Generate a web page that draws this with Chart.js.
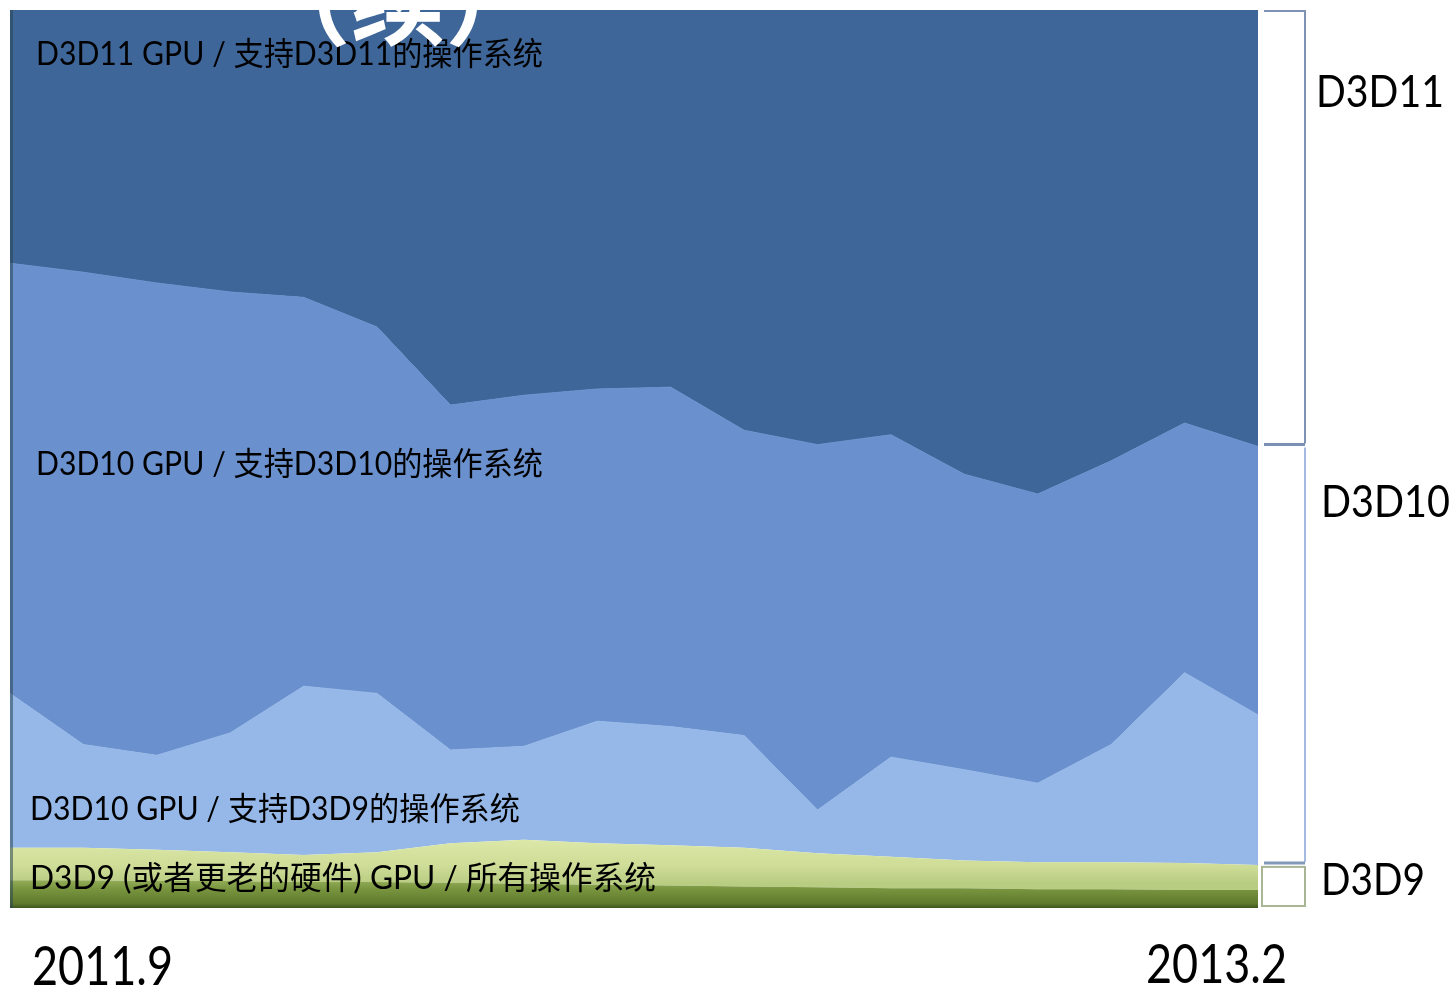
<!DOCTYPE html>
<html>
<head>
<meta charset="utf-8">
<script src="https://cdn.jsdelivr.net/npm/chart.js@4/dist/chart.umd.min.js"></script>
<style>
  html, body { margin: 0; padding: 0; background: #fff; }
  canvas { display: block; }
</style>
</head>
<body>
<canvas id="shareChart" width="1455" height="989"></canvas>
<script>
// Months, 2011.9 -> 2013.2
const months = ['2011.9', '2011.10', '2011.11', '2011.12', '2012.1', '2012.2', '2012.3', '2012.4', '2012.5',
  '2012.6', '2012.7', '2012.8', '2012.9', '2012.10', '2012.11', '2012.12', '2013.1', '2013.2'];

// Share (%) per layer, bottom to top
const d3d9Older = [3.1, 3.1, 3.0, 3.0, 2.9, 2.9, 2.8, 2.7, 2.6, 2.5, 2.4, 2.3, 2.2, 2.2, 2.1, 2.1, 2.0, 2.0];
const d3d9Gpu = [3.6, 3.6, 3.5, 3.2, 3.0, 3.3, 4.4, 4.9, 4.6, 4.5, 4.3, 3.8, 3.5, 3.1, 3.0, 3.0, 3.0, 2.8];
const d3d10OnD3d9 = [17.2, 11.5, 10.5, 13.3, 18.8, 17.7, 10.4, 10.4, 13.6, 13.2, 12.5, 4.8, 11.1, 10.1, 8.8, 13.1, 21.2, 16.7];
const d3d10OnD3d10 = [47.9, 52.6, 52.6, 49.1, 43.3, 40.8, 38.4, 39.1, 37.0, 37.8, 34.0, 40.7, 35.9, 32.9, 32.2, 31.6, 27.8, 29.9];
const d3d11 = [28.2, 29.2, 30.4, 31.4, 32.0, 35.3, 44.0, 42.9, 42.2, 42.0, 46.8, 48.4, 47.3, 51.7, 53.9, 50.2, 46.0, 48.6];

const areaLabels = [
  'D3D11 GPU / 支持D3D11的操作系统',
  'D3D10 GPU / 支持D3D10的操作系统',
  'D3D10 GPU / 支持D3D9的操作系统',
  'D3D9 (或者更老的硬件) GPU / 所有操作系统'
];
const bracketLabels = ['D3D11', 'D3D10', 'D3D9'];
const startLabel = '2011.9';
const endLabel = '2013.2';
const titleTail = '（续）';

const CJK = '"Noto Sans CJK SC"';

function vGradient(ctx, y0, y1, stops) {
  const g = ctx.createLinearGradient(0, y0, 0, y1);
  stops.forEach(s => g.addColorStop(s[0], s[1]));
  return g;
}

// Draw text squeezed/stretched to a given width
function fitText(ctx, text, x, y, width, font, color) {
  ctx.save();
  ctx.font = font;
  ctx.fillStyle = color;
  ctx.textAlign = 'left';
  ctx.textBaseline = 'middle';
  const w = ctx.measureText(text).width;
  ctx.translate(x, y);
  ctx.scale(width / w, 1);
  ctx.fillText(text, 0, 0);
  ctx.restore();
}

const decorPlugin = {
  id: 'decor',
  afterDatasetsDraw(chart) {
    const { ctx, chartArea, scales } = chart;
    const y = scales.y;
    const last = months.length - 1;

    // left edge shading
    ctx.save();
    ctx.fillStyle = 'rgba(40, 70, 80, 0.55)';
    ctx.fillRect(chartArea.left, chartArea.top, 3, chartArea.bottom - chartArea.top);
    ctx.restore();

    // brackets on the right, from the last month's stacked shares
    const greenTop = d3d9Older[last] + d3d9Gpu[last];
    const d10Top = greenTop + d3d10OnD3d9[last] + d3d10OnD3d10[last];
    const yTop = y.getPixelForValue(100);
    const yD10 = y.getPixelForValue(d10Top);
    const yGreen = y.getPixelForValue(greenTop);
    const yBottom = y.getPixelForValue(0);
    const bx0 = chartArea.right + 6;
    const bx1 = chartArea.right + 47;

    ctx.save();
    // D3D11
    ctx.strokeStyle = '#7f94b5';
    ctx.lineWidth = 2;
    ctx.beginPath();
    ctx.moveTo(bx0, yTop + 1);
    ctx.lineTo(bx1, yTop + 1);
    ctx.lineTo(bx1, yD10 - 3);
    ctx.stroke();
    ctx.lineWidth = 3;
    ctx.strokeStyle = '#7b90b2';
    ctx.beginPath();
    ctx.moveTo(bx0, yD10 - 2);
    ctx.lineTo(bx1, yD10 - 2);
    ctx.stroke();
    // D3D10
    ctx.lineWidth = 2;
    ctx.strokeStyle = '#a3bbe0';
    ctx.beginPath();
    ctx.moveTo(bx1, yD10 + 1);
    ctx.lineTo(bx1, yGreen - 3);
    ctx.stroke();
    ctx.strokeStyle = '#8298b8';
    ctx.lineWidth = 3;
    ctx.beginPath();
    ctx.moveTo(bx0, yGreen - 2);
    ctx.lineTo(bx1, yGreen - 2);
    ctx.stroke();
    // D3D9
    ctx.lineWidth = 2;
    ctx.strokeStyle = '#a9b696';
    ctx.strokeRect(bx0 - 2, yGreen + 2, bx1 - bx0 + 2, yBottom - yGreen - 4);
    ctx.restore();

    // bracket labels
    const rf = '44px Lato, "Open Sans", sans-serif';
    fitText(ctx, bracketLabels[0], 1316, 93, 128, rf, '#000');
    fitText(ctx, bracketLabels[1], 1321, 503, 129, rf, '#000');
    fitText(ctx, bracketLabels[2], 1321, 881, 104, rf, '#000');

    // area labels
    const af = '32px Lato, ' + CJK + ', sans-serif';
    fitText(ctx, areaLabels[0], 36, 55, 507, af, '#000');
    fitText(ctx, areaLabels[1], 36, 465, 507, af, '#000');
    fitText(ctx, areaLabels[2], 30, 810, 490, af, '#000');
    fitText(ctx, areaLabels[3], 30, 879, 626, af, '#000');

    // time labels
    const tf = '54px Lato, "Open Sans", sans-serif';
    fitText(ctx, startLabel, 32, 968, 141, tf, '#000');
    fitText(ctx, endLabel, 1146, 966, 141, tf, '#000');

    // leftover of the slide title, white over the plot
    ctx.save();
    ctx.beginPath();
    ctx.rect(chartArea.left, chartArea.top, chartArea.right - chartArea.left, 60);
    ctx.clip();
    ctx.font = 'bold 95px ' + CJK;
    ctx.fillStyle = '#ffffff';
    ctx.textAlign = 'center';
    ctx.textBaseline = 'middle';
    ctx.fillText(titleTail, 398, 2);
    ctx.restore();
  }
};

const ctx = document.getElementById('shareChart').getContext('2d');

new Chart(ctx, {
  type: 'line',
  data: {
    labels: months,
    datasets: [
      {
        label: 'D3D9 older',
        data: d3d9Older,
        fill: 'origin',
        borderWidth: 0,
        backgroundColor: (c) => {
          const a = c.chart.chartArea;
          if (!a) return '#6f8a3a';
          return vGradient(c.chart.ctx, a.bottom - 30, a.bottom,
            [[0, '#9bb35e'], [0.35, '#7a9640'], [0.85, '#5f7a2c'], [1, '#3f5520']]);
        }
      },
      {
        label: 'D3D9 GPU',
        data: d3d9Gpu,
        fill: '-1',
        borderWidth: 0,
        backgroundColor: (c) => {
          const a = c.chart.chartArea;
          if (!a) return '#d3e09d';
          return vGradient(c.chart.ctx, a.bottom - 70, a.bottom - 25,
            [[0, '#dde8a8'], [0.6, '#cfdd98'], [1, '#b9cd82']]);
        }
      },
      {
        label: 'D3D10 GPU / D3D9 OS',
        data: d3d10OnD3d9,
        fill: '-1',
        borderWidth: 1,
        borderColor: '#95b8e8',
        backgroundColor: '#95b8e8'
      },
      {
        label: 'D3D10 GPU / D3D10 OS',
        data: d3d10OnD3d10,
        fill: '-1',
        borderWidth: 1,
        borderColor: '#6a90cd',
        backgroundColor: '#6a90cd'
      },
      {
        label: 'D3D11 GPU / D3D11 OS',
        data: d3d11,
        fill: '-1',
        borderWidth: 1,
        borderColor: '#3f6699',
        backgroundColor: '#3f6699'
      }
    ]
  },
  options: {
    responsive: false,
    animation: false,
    devicePixelRatio: 1,
    layout: {
      padding: { left: 10, top: 10, right: 197, bottom: 81 }
    },
    elements: {
      point: { radius: 0, hoverRadius: 0 },
      line: { tension: 0 }
    },
    plugins: {
      legend: { display: false },
      tooltip: { enabled: false }
    },
    scales: {
      x: { display: false },
      y: { display: false, stacked: true, min: 0, max: 100 }
    }
  },
  plugins: [decorPlugin]
});
</script>
</body>
</html>
